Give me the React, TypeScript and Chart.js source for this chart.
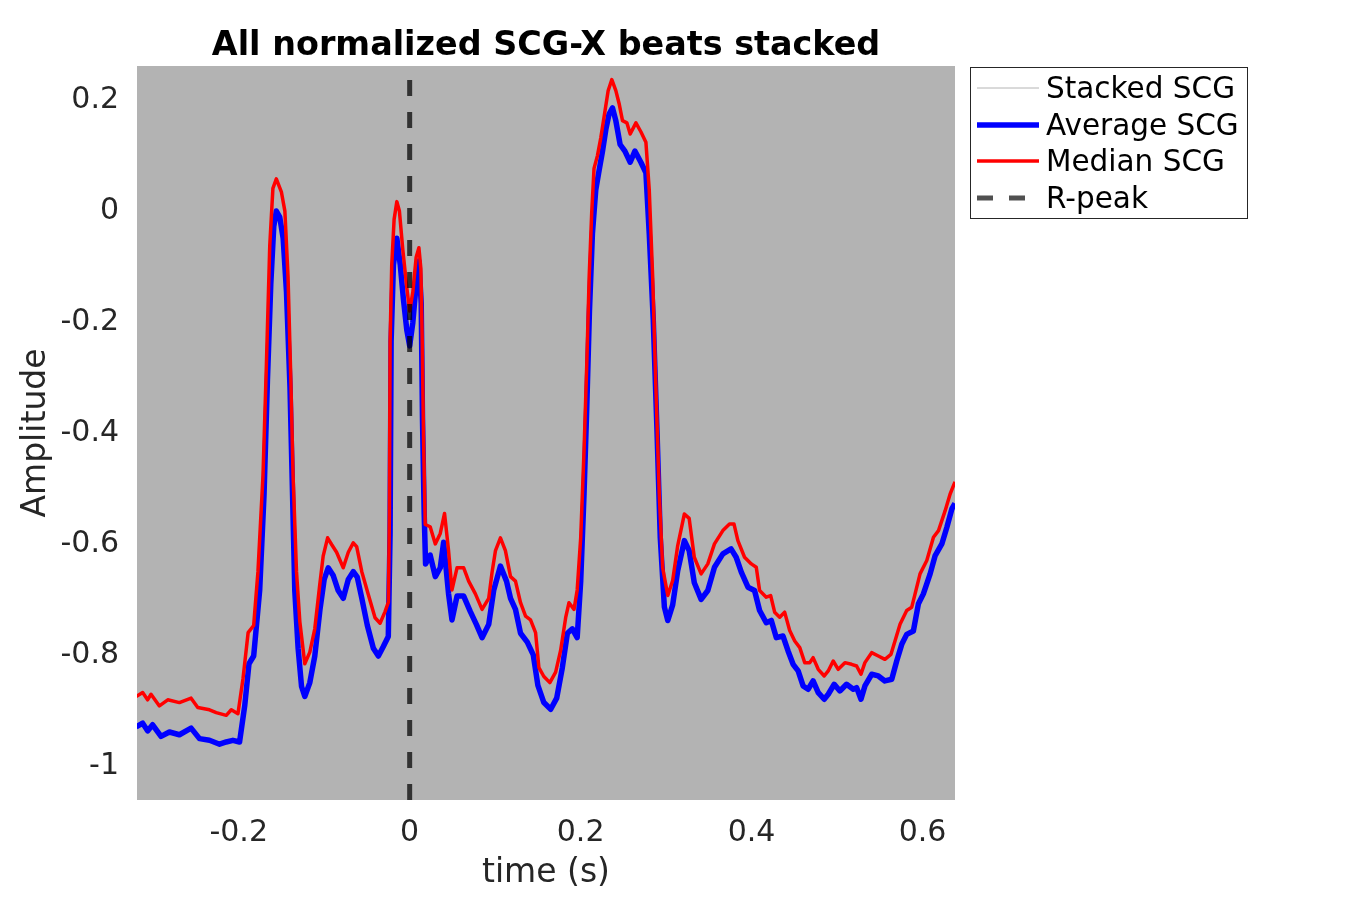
import React, { useEffect, useRef } from "react";
import { Chart, registerables } from "chart.js";

Chart.register(...registerables);

// ---- Data ----
const chartTitle = "All normalized SCG-X beats stacked";
const xLabel = "time (s)";
const yLabel = "Amplitude";
const seriesLabels = ["Stacked SCG", "Average SCG", "Median SCG", "R-peak"];

const xMin = -0.319;
const xMax = 0.638;
const yMin = -1.0686;
const yMax = 0.2545;
const xTicks = [-0.2, 0, 0.2, 0.4, 0.6];
const yTicks = [0.2, 0, -0.2, -0.4, -0.6, -0.8, -1];
const rPeakTime = 0;

const medianTime = [
  -0.32, -0.3124, -0.3066, -0.3026, -0.2928, -0.283, -0.2694, -0.2557, -0.2479, -0.2342,
  -0.2263, -0.2146, -0.2087, -0.2009, -0.195, -0.189, -0.1825, -0.1775, -0.1716, -0.1676,
  -0.1637, -0.16, -0.156, -0.15, -0.146, -0.1423, -0.139, -0.1364, -0.1324, -0.1285,
  -0.1227, -0.1168, -0.111, -0.105, -0.1012, -0.096, -0.0913, -0.0855, -0.0777, -0.0718,
  -0.066, -0.062, -0.056, -0.0484, -0.0405, -0.0346, -0.0288, -0.0249, -0.0237, -0.0229,
  -0.021, -0.0182, -0.015, -0.012, -0.008, -0.0033, 0.0, 0.0037, 0.0076, 0.0108,
  0.0131, 0.0147, 0.0162, 0.0182, 0.024, 0.03, 0.0358, 0.0408, 0.0455, 0.0495,
  0.0554, 0.0632, 0.069, 0.0769, 0.0847, 0.0925, 0.0964, 0.1004, 0.1062, 0.112,
  0.118, 0.1238, 0.1297, 0.1356, 0.1414, 0.1473, 0.1512, 0.157, 0.164, 0.1708,
  0.1766, 0.1825, 0.1864, 0.1923, 0.196, 0.2001, 0.204, 0.2072, 0.21, 0.213,
  0.2157, 0.2197, 0.2236, 0.2283, 0.2322, 0.2365, 0.2412, 0.245, 0.249, 0.2541,
  0.258, 0.2647, 0.2705, 0.2764, 0.2803, 0.2843, 0.288, 0.292, 0.296, 0.302,
  0.3077, 0.3136, 0.3214, 0.327, 0.333, 0.341, 0.3488, 0.3566, 0.3664, 0.3742,
  0.3794, 0.384, 0.3918, 0.3997, 0.4055, 0.4094, 0.4172, 0.4223, 0.427, 0.4329,
  0.4387, 0.4446, 0.4505, 0.4564, 0.4622, 0.468, 0.472, 0.478, 0.485, 0.4897,
  0.4955, 0.5014, 0.5092, 0.517, 0.5229, 0.528, 0.5326, 0.5405, 0.5483, 0.556,
  0.5631, 0.5678, 0.5737, 0.5815, 0.5874, 0.5913, 0.5971, 0.605, 0.6128, 0.6187,
  0.6265, 0.6323, 0.638,
];
const medianValues = [
  -0.882, -0.875, -0.888, -0.878, -0.899, -0.888, -0.893, -0.885, -0.902, -0.906,
  -0.911, -0.916, -0.906, -0.913, -0.85, -0.767, -0.754, -0.657, -0.484, -0.283,
  -0.07, 0.034, 0.051, 0.027, -0.007, -0.125, -0.312, -0.484, -0.657, -0.747,
  -0.823, -0.802, -0.76, -0.678, -0.629, -0.596, -0.608, -0.622, -0.65, -0.622,
  -0.605, -0.612, -0.657, -0.698, -0.74, -0.75, -0.729, -0.712, -0.553, -0.242,
  -0.105, -0.022, 0.01, -0.007, -0.077, -0.146, -0.187, -0.153, -0.09, -0.073,
  -0.111, -0.242, -0.415, -0.572, -0.576, -0.607, -0.588, -0.552, -0.619, -0.69,
  -0.65, -0.65, -0.674, -0.697, -0.725, -0.705, -0.658, -0.619, -0.596, -0.619,
  -0.666, -0.674, -0.713, -0.737, -0.744, -0.767, -0.83, -0.846, -0.857, -0.838,
  -0.799, -0.74, -0.713, -0.725, -0.69, -0.596, -0.439, -0.283, -0.126, -0.009,
  0.07, 0.093, 0.125, 0.171, 0.21, 0.23, 0.21, 0.187, 0.156, 0.152,
  0.132, 0.152, 0.136, 0.117, 0.031, -0.126, -0.321, -0.517, -0.65, -0.7,
  -0.673, -0.61, -0.553, -0.561, -0.631, -0.661, -0.643, -0.607, -0.583, -0.571,
  -0.571, -0.601, -0.631, -0.643, -0.649, -0.691, -0.703, -0.7, -0.73, -0.739,
  -0.73, -0.763, -0.782, -0.794, -0.821, -0.821, -0.812, -0.833, -0.845, -0.836,
  -0.818, -0.833, -0.821, -0.824, -0.827, -0.842, -0.821, -0.803, -0.809, -0.815,
  -0.806, -0.782, -0.752, -0.727, -0.721, -0.697, -0.661, -0.637, -0.595, -0.583,
  -0.547, -0.517, -0.495,
];

const averageTime = [
  -0.32, -0.3124, -0.3066, -0.3007, -0.2909, -0.2811, -0.2694, -0.2557, -0.2459, -0.2342,
  -0.2224, -0.2146, -0.2068, -0.199, -0.193, -0.188, -0.1825, -0.1755, -0.1704, -0.1664,
  -0.1625, -0.159, -0.156, -0.152, -0.148, -0.1441, -0.14, -0.137, -0.1344, -0.1305,
  -0.1265, -0.1227, -0.1168, -0.111, -0.105, -0.1, -0.0953, -0.0894, -0.0836, -0.0777,
  -0.0718, -0.066, -0.0613, -0.056, -0.0495, -0.0425, -0.0366, -0.0308, -0.025, -0.0229,
  -0.0217, -0.019, -0.015, -0.011, -0.0073, -0.0033, 0.0, 0.0037, 0.0076, 0.0108,
  0.0135, 0.015, 0.017, 0.0186, 0.024, 0.03, 0.0358, 0.0397, 0.0455, 0.0495,
  0.0554, 0.0632, 0.071, 0.078, 0.0847, 0.0925, 0.0984, 0.1062, 0.1133, 0.118,
  0.1238, 0.1297, 0.1376, 0.1446, 0.15, 0.157, 0.165, 0.172, 0.1786, 0.1845,
  0.1903, 0.196, 0.2001, 0.204, 0.2072, 0.2103, 0.2138, 0.2177, 0.2216, 0.2256,
  0.2295, 0.2333, 0.2373, 0.2412, 0.2462, 0.2518, 0.258, 0.2635, 0.2705, 0.2764,
  0.2803, 0.285, 0.2893, 0.2932, 0.298, 0.302, 0.3077, 0.3136, 0.3214, 0.327,
  0.333, 0.341, 0.3488, 0.3566, 0.3664, 0.376, 0.382, 0.388, 0.3958, 0.4035,
  0.4094, 0.4172, 0.4231, 0.429, 0.4368, 0.4427, 0.4486, 0.4545, 0.4603, 0.4662,
  0.472, 0.478, 0.485, 0.4897, 0.4967, 0.5033, 0.5111, 0.519, 0.5229, 0.528,
  0.5326, 0.5405, 0.5483, 0.556, 0.564, 0.5698, 0.5757, 0.5815, 0.5893, 0.5952,
  0.601, 0.6089, 0.6148, 0.6226, 0.6285, 0.6343, 0.638,
];
const averageValues = [
  -0.937, -0.93, -0.944, -0.933, -0.954, -0.946, -0.951, -0.939, -0.958, -0.961,
  -0.968, -0.964, -0.961, -0.964, -0.899, -0.823, -0.809, -0.691, -0.519, -0.312,
  -0.139, -0.035, -0.007, -0.018, -0.056, -0.153, -0.325, -0.519, -0.691, -0.795,
  -0.864, -0.882, -0.857, -0.809, -0.726, -0.671, -0.65, -0.664, -0.691, -0.705,
  -0.671, -0.657, -0.667, -0.705, -0.754, -0.795, -0.809, -0.792, -0.774, -0.588,
  -0.242, -0.104, -0.056, -0.104, -0.166, -0.222, -0.25, -0.208, -0.139, -0.097,
  -0.173, -0.381, -0.553, -0.643, -0.627, -0.666, -0.65, -0.604, -0.697, -0.744,
  -0.701, -0.701, -0.729, -0.752, -0.776, -0.752, -0.69, -0.647, -0.674, -0.705,
  -0.725, -0.768, -0.784, -0.807, -0.862, -0.893, -0.905, -0.885, -0.83, -0.768,
  -0.76, -0.776, -0.674, -0.517, -0.361, -0.189, -0.048, 0.031, 0.066, 0.101,
  0.14, 0.168, 0.179, 0.156, 0.113, 0.101, 0.081, 0.101, 0.081, 0.062,
  -0.048, -0.204, -0.4, -0.596, -0.721, -0.745, -0.717, -0.655, -0.601, -0.619,
  -0.677, -0.707, -0.691, -0.649, -0.625, -0.616, -0.631, -0.658, -0.685, -0.691,
  -0.727, -0.749, -0.745, -0.776, -0.773, -0.8, -0.824, -0.836, -0.863, -0.869,
  -0.854, -0.875, -0.887, -0.878, -0.86, -0.872, -0.86, -0.869, -0.866, -0.887,
  -0.863, -0.842, -0.845, -0.854, -0.851, -0.818, -0.788, -0.77, -0.764, -0.715,
  -0.697, -0.661, -0.628, -0.607, -0.577, -0.544, -0.534,
];

// Stacked individual beats are not visible in the picture (drawn under the averages)
const stackedTime: number[] = [];
const stackedValues: number[] = [];

const toPoints = (xs: number[], ys: number[]) => xs.map((x, i) => ({ x, y: ys[i] }));

const FONT = "'DejaVu Sans', sans-serif";

const decorPlugin = {
  id: "decor",
  beforeDraw(chart: any) {
    const { ctx, chartArea } = chart;
    ctx.save();
    ctx.fillStyle = "#ffffff";
    ctx.fillRect(0, 0, chart.width, chart.height);
    ctx.fillStyle = "#b3b3b3";
    ctx.fillRect(chartArea.left, chartArea.top, chartArea.right - chartArea.left, chartArea.bottom - chartArea.top);
    ctx.restore();
  },
  afterDraw(chart: any) {
    const { ctx, chartArea } = chart;
    ctx.save();
    // title
    ctx.fillStyle = "#000000";
    ctx.font = `bold 33.4px ${FONT}`;
    ctx.textAlign = "center";
    ctx.textBaseline = "alphabetic";
    ctx.fillText(chartTitle, (chartArea.left + chartArea.right) / 2, 55);

    // legend
    const bx = 970.5, by = 67.5, bw = 277, bh = 151;
    ctx.fillStyle = "#ffffff";
    ctx.fillRect(bx, by, bw, bh);
    ctx.strokeStyle = "#262626";
    ctx.lineWidth = 1;
    ctx.setLineDash([]);
    ctx.strokeRect(bx, by, bw, bh);
    const rows = [88, 125, 161, 198];
    const order = [0, 1, 2, 3];
    ctx.font = `29.5px ${FONT}`;
    ctx.textAlign = "left";
    order.forEach((di, i) => {
      const ds = chart.data.datasets[di];
      const y = rows[i];
      ctx.save();
      ctx.strokeStyle = ds.legendColor || ds.borderColor;
      ctx.lineWidth = ds.legendWidth || ds.borderWidth;
      ctx.lineCap = "butt";
      ctx.setLineDash(ds.borderDash || []);
      ctx.beginPath();
      ctx.moveTo(977, y);
      ctx.lineTo(1039, y);
      ctx.stroke();
      ctx.restore();
      ctx.fillStyle = "#000000";
      ctx.fillText(ds.label, 1046, y + 9.5);
    });
    ctx.restore();
  },
};

const fmt = (v: number) => String(Number(v.toFixed(1)));

export default function App() {
  const canvasRef = useRef<HTMLCanvasElement | null>(null);

  useEffect(() => {
    if (!canvasRef.current) return;
    const chart = new Chart(canvasRef.current, {
      type: "line",
      data: {
        datasets: [
          {
            label: seriesLabels[0],
            data: toPoints(stackedTime, stackedValues),
            borderColor: "#b4b4b4",
            borderWidth: 1,
            order: 3,
          } as any,
          {
            label: seriesLabels[1],
            data: toPoints(averageTime, averageValues),
            borderColor: "#0000ff",
            borderWidth: 5.5,
            borderJoinStyle: "round",
            order: 2,
          },
          {
            label: seriesLabels[2],
            data: toPoints(medianTime, medianValues),
            borderColor: "#ff0000",
            borderWidth: 3.5,
            borderJoinStyle: "round",
            order: 1,
          },
          {
            label: seriesLabels[3],
            data: [
              { x: rPeakTime, y: yMin },
              { x: rPeakTime, y: yMax },
            ],
            borderColor: "rgba(0,0,0,0.72)",
            legendColor: "#505050",
            borderWidth: 5,
            borderDash: [16, 16],
            borderCapStyle: "butt",
            order: 0,
          } as any,
        ],
      },
      options: {
        animation: false,
        responsive: false,
        devicePixelRatio: 1,
        layout: { padding: { left: 0, right: 395, top: 66, bottom: 0 } },
        elements: { point: { radius: 0, hoverRadius: 0 }, line: { tension: 0 } },
        plugins: {
          legend: { display: false },
          title: { display: false },
          tooltip: { enabled: false },
        },
        events: [],
        scales: {
          x: {
            type: "linear",
            min: xMin,
            max: xMax,
            grid: { display: false },
            border: { display: false },
            afterBuildTicks: (s: any) => {
              s.ticks = xTicks.map((v) => ({ value: v }));
            },
            afterFit: (s: any) => {
              s.height = 100;
            },
            ticks: {
              color: "#262626",
              font: { family: FONT, size: 30 },
              padding: 7,
              maxRotation: 0,
              autoSkip: false,
              callback: (v: any) => fmt(Number(v)),
            },
            title: {
              display: true,
              text: xLabel,
              color: "#262626",
              font: { family: FONT, size: 33 },
              padding: { top: 0, bottom: 7 },
            },
          },
          y: {
            type: "linear",
            min: yMin,
            max: yMax,
            grid: { display: false },
            border: { display: false },
            afterBuildTicks: (s: any) => {
              s.ticks = yTicks.map((v) => ({ value: v }));
            },
            afterFit: (s: any) => {
              s.width = 137;
            },
            ticks: {
              color: "#262626",
              font: { family: FONT, size: 30 },
              padding: 10,
              labelOffset: 4,
              autoSkip: false,
              callback: (v: any) => fmt(Number(v)),
            },
            title: {
              display: true,
              text: yLabel,
              color: "#262626",
              font: { family: FONT, size: 33 },
              padding: { top: 17, bottom: 0 },
            },
          },
        },
      } as any,
      plugins: [decorPlugin],
    });
    return () => chart.destroy();
  }, []);

  return (
    <div style={{ position: "fixed", left: 0, top: 0, width: 1350, height: 900, background: "#ffffff" }}>
      <canvas ref={canvasRef} width={1350} height={900} style={{ display: "block", width: 1350, height: 900 }} />
    </div>
  );
}
